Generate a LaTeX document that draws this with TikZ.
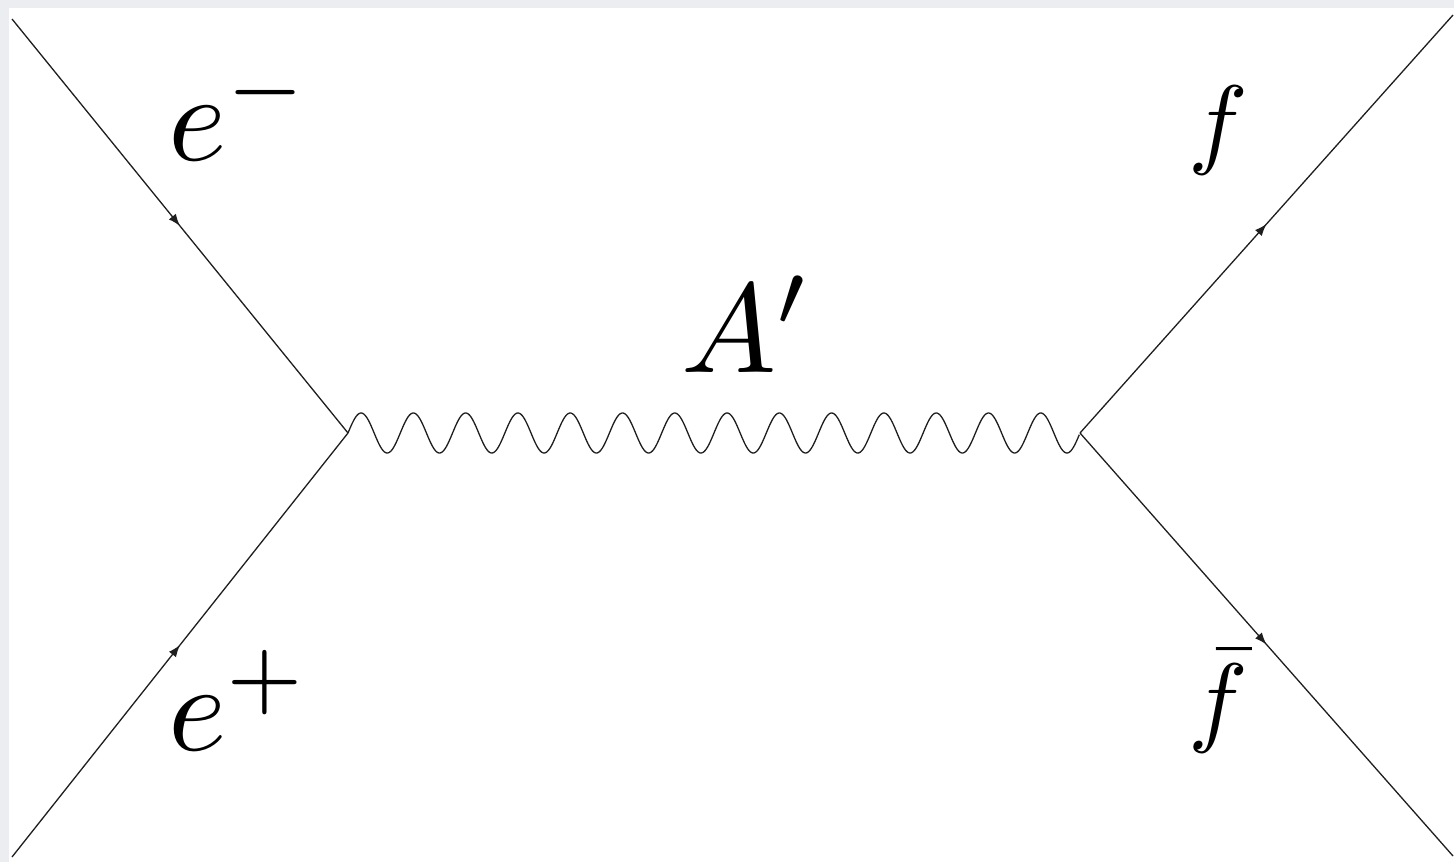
\documentclass[tikz,border=0pt]{standalone}
\usetikzlibrary{decorations.markings,arrows.meta,calc}
\definecolor{framegray}{RGB}{236,237,240}
\definecolor{linegray}{RGB}{30,30,30}
\tikzset{
  fermion/.style={draw=linegray,line width=1.3pt,postaction={decorate},
    decoration={markings,mark=at position 0.5 with {\arrow[linegray]{Latex[length=12pt,width=9pt]}}}},
  photon/.style={draw=linegray,line width=1.3pt},
  lab/.style={inner sep=0pt,anchor=base west}
}
\begin{document}
\begin{tikzpicture}[x=1pt,y=-1pt]
\useasboundingbox (0,0) rectangle (1454,862);
\fill[framegray] (0,0) rectangle (1454,862);
\fill[white] (9,8) rectangle (1454,862);
\coordinate (v1) at (348,433);
\coordinate (v2) at (1080,433);
\coordinate (em) at (12,19);
\coordinate (ep) at (12,857);
\coordinate (fo) at (1453,15);
\coordinate (fb) at (1453,856);
\path[fermion] (em) -- (v1);
\path[fermion] (ep) -- (v1);
\path[fermion] (v2) -- (fo);
\path[fermion] (v2) -- (fb);
\draw[photon] let \p1=(v1), \p2=(v2) in
  plot[variable=\t,domain=0:1,samples=700,smooth] ({\x1+(\x2-\x1)*\t},{\y1+20pt*sin(14*360*\t)});
\node[lab,scale=12.5] (lem) at (166,160) {$e^-$};
\node[lab,scale=12.5] (lep) at (166,750) {$e^+$};
\node[lab,scale=12.7] (lA) at (679,372) {$A'$};
\node[lab,scale=10] (lf) at (1186,155) {$f$};
\node[lab,scale=10] (lfb) at (1186,733) {$\bar f$};
\end{tikzpicture}
\end{document}
